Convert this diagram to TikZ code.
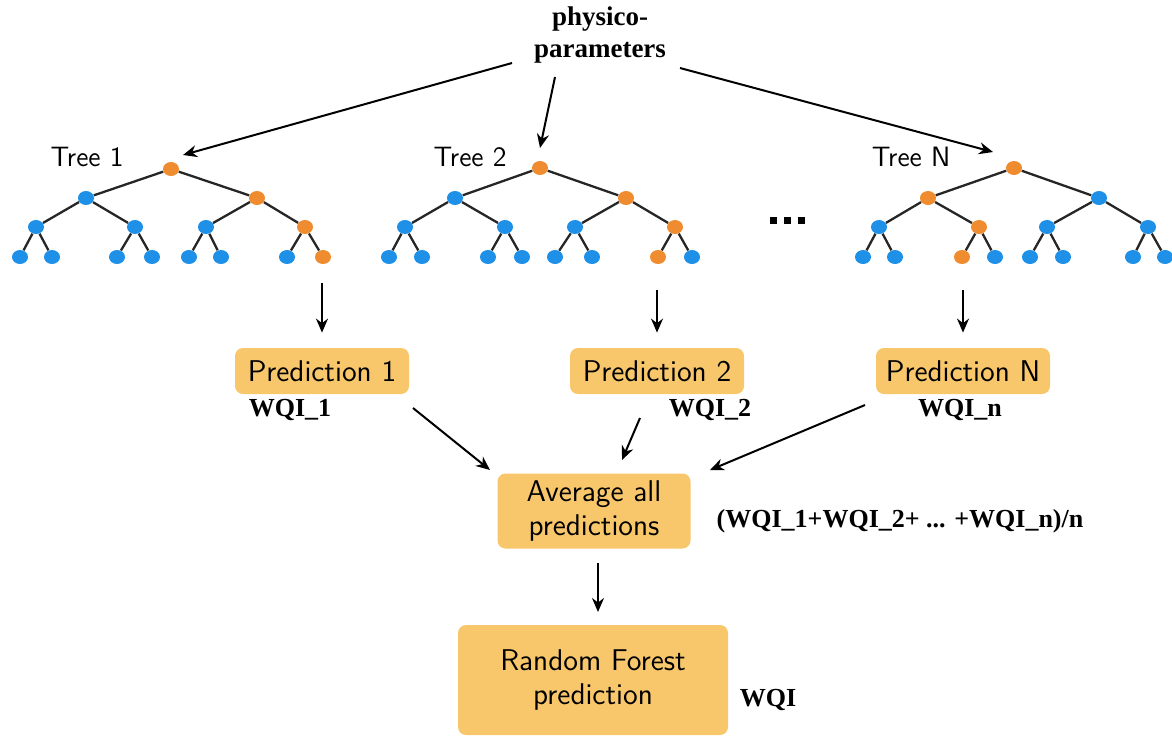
\documentclass[tikz,border=0pt]{standalone}
\usepackage{fontspec}
\newfontfamily\serifb{Liberation Serif}
\usetikzlibrary{arrows.meta,shapes.geometric}
\definecolor{nb}{RGB}{30,144,232}
\definecolor{no}{RGB}{240,140,48}
\definecolor{boxc}{RGB}{248,199,108}
\begin{document}
\begin{tikzpicture}[x=0.5pt,y=-0.5pt,
  tn/.style={ellipse,minimum width=8pt,minimum height=7pt,inner sep=0pt},
  edge/.style={line width=1.15pt,black!85},
  arr/.style={line width=1pt,-{Stealth[length=7pt,width=6pt]}},
  box/.style={fill=boxc,rounded corners=4pt,font=\sffamily\fontsize{15}{17}\selectfont,align=center,inner sep=0pt},
  pbox/.style={box,minimum width=87pt,minimum height=23pt},
  lbl/.style={font=\serifb\bfseries\fontsize{13}{15}\selectfont},
  tl/.style={font=\sffamily\fontsize{14}{16}\selectfont},
  dot/.style={fill=black,minimum size=3.5pt,inner sep=0pt}]
\useasboundingbox (0,0) rectangle (1172,736);

% top label
\node[font=\serifb\bfseries\fontsize{13.5}{16}\selectfont,align=center,inner sep=0pt] (phys) at (600,35) {physico-\\parameters};

% tree labels
\node[tl] (lt1) at (87,157) {Tree 1};
\node[tl] (lt2) at (470,157) {Tree 2};
\node[tl] (ltN) at (911,157) {Tree N};

% tree nodes
\foreach \n/\x/\y/\c in {
  t1r/171/169/no, t1a/86/198/nb, t1b/257/198/no,
  t1aa/36/227/nb, t1ab/135/227/nb, t1ba/206/227/nb, t1bb/305/227/no,
  t1aaa/20/257/nb, t1aab/52/257/nb, t1aba/117/257/nb, t1abb/152/257/nb,
  t1baa/189/257/nb, t1bab/221/257/nb, t1bba/287/257/nb, t1bbb/323/257/no,
  t2r/540/168/no, t2a/455/198/nb, t2b/626/198/no,
  t2aa/405/227/nb, t2ab/505/227/nb, t2ba/575/227/nb, t2bb/675/227/no,
  t2aaa/389/257/nb, t2aab/422/257/nb, t2aba/488/257/nb, t2abb/522/257/nb,
  t2baa/555/257/nb, t2bab/592/257/nb, t2bba/658/257/no, t2bbb/692/257/nb,
  tNr/1014/168/no, tNa/928/198/no, tNb/1099/198/nb,
  tNaa/879/227/nb, tNab/979/227/no, tNba/1047/227/nb, tNbb/1148/227/nb,
  tNaaa/863/257/nb, tNaab/895/257/nb, tNaba/962/257/no, tNabb/995/257/nb,
  tNbaa/1030/257/nb, tNbab/1063/257/nb, tNbba/1133/257/nb, tNbbb/1165/257/nb}
  \node[tn,fill=\c] (\n) at (\x,\y) {};

\foreach \t in {t1,t2,tN}
  \foreach \p/\q in {r/a,r/b,a/aa,a/ab,b/ba,b/bb,aa/aaa,aa/aab,ab/aba,ab/abb,ba/baa,ba/bab,bb/bba,bb/bbb}
    \draw[edge] (\t\p) -- (\t\q);

% dots between trees
\node[dot] (d1) at (773,220) {};
\node[dot] (d2) at (787,220) {};
\node[dot] (d3) at (801,220) {};

% arrows from physico-parameters
\coordinate (s1) at (512,63);
\coordinate (s2) at (555,77);
\coordinate (s3) at (680,68);
\coordinate (e1) at (183,155);
\coordinate (e2) at (540,148);
\coordinate (e3) at (993,152);
\draw[arr] (s1) -- (e1);
\draw[arr] (s2) -- (e2);
\draw[arr] (s3) -- (e3);

% prediction boxes
\node[pbox] (p1) at (322,371) {Prediction 1};
\node[pbox] (p2) at (657,371) {Prediction 2};
\node[pbox] (pN) at (963,371) {Prediction N};

\coordinate (q1) at (322,283);
\coordinate (q2) at (657,290);
\coordinate (qN) at (963,290);
\draw[arr,shorten >=7.5pt] (q1) -- (p1.north);
\draw[arr,shorten >=7.5pt] (q2) -- (p2.north);
\draw[arr,shorten >=7.5pt] (qN) -- (pN.north);

\node[lbl] (w1) at (290,410) {WQI\_1};
\node[lbl] (w2) at (710,410) {WQI\_2};
\node[lbl] (wN) at (960,410) {WQI\_n};

% average box
\node[box,minimum width=96.5pt,minimum height=37.5pt] (avg) at (594,511) {Average all\\predictions};
\node[lbl] (form) at (900,521) {(WQI\_1+WQI\_2+ ... +WQI\_n)/n};

\coordinate (a1s) at (413,408);
\coordinate (a1e) at (490,470);
\coordinate (a2s) at (640,418);
\coordinate (a2e) at (622,460);
\coordinate (a3s) at (865,405);
\coordinate (a3e) at (710,470);
\draw[arr] (a1s) -- (a1e);
\draw[arr] (a2s) -- (a2e);
\draw[arr] (a3s) -- (a3e);

% random forest box
\node[box,minimum width=135pt,minimum height=55pt] (rf) at (593,680) {Random Forest\\prediction};
\node[lbl] (wqi) at (768,700) {WQI};

\coordinate (v1) at (598,563);
\coordinate (v2) at (598,612);
\draw[arr] (v1) -- (v2);
\end{tikzpicture}
\end{document}
